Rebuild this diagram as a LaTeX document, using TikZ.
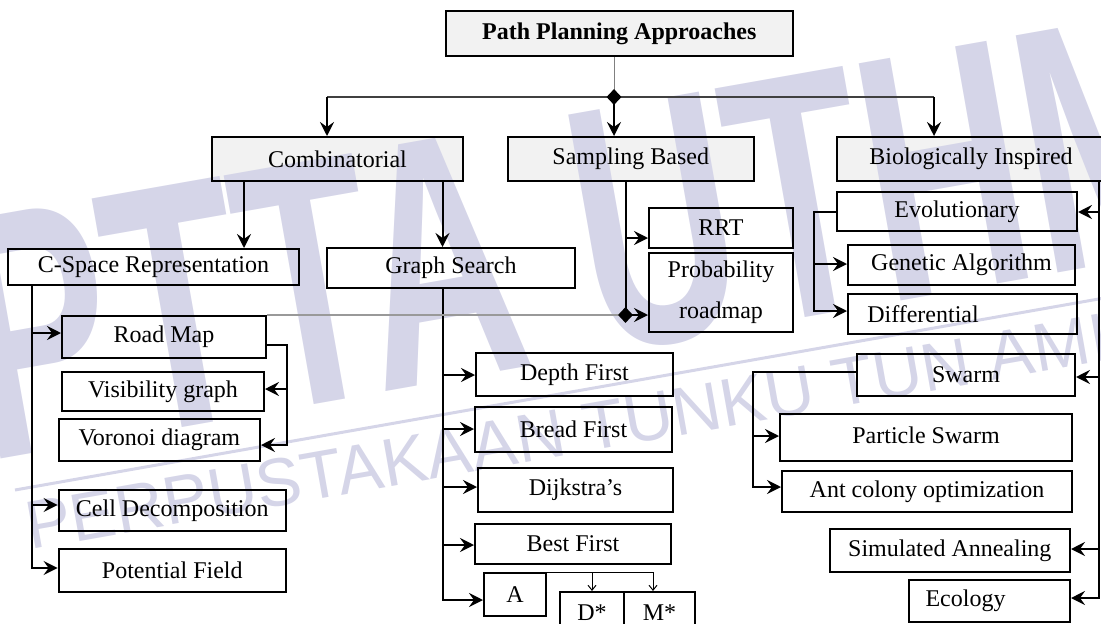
\documentclass[tikz,border=0pt]{standalone}
\usepackage{fontspec}
\setmainfont{Liberation Serif}
\newfontfamily\wmfamily{Liberation Sans}
\usetikzlibrary{arrows.meta,shapes.geometric}
\pgfdeclarelayer{fills}
\pgfdeclarelayer{wm}
\pgfsetlayers{fills,wm,main}
\definecolor{boxgray}{RGB}{242,242,242}
\definecolor{wmc}{RGB}{213,213,232}
\newcommand\fs{\fontsize{24}{28}\selectfont}
% box by corners: [opts]{name}{x1}{y1}{x2}{y2}{text}
\newcommand\bx[7][]{\node[box,#1,minimum width={(#5-#3)*1pt},minimum height={(#6-#4)*1pt}] (#2) at ({(#3+#5)/2},{(#4+#6)/2}) {#7};}
\begin{document}
\begin{tikzpicture}[x=1pt,y=-1pt,
  box/.style={draw,line width=2pt,inner sep=0pt,font=\fs,align=center},
  topbox/.style={box},
  ln/.style={line width=2pt},
  arr/.style={line width=2pt,-{Stealth[length=14pt,width=14pt,inset=5pt]}},
  tarr/.style={line width=1pt,-{Straight Barb[length=5pt,width=8pt]}},
  hub/.style={diamond,fill=black,inner sep=0pt,minimum width=15pt,minimum height=16pt},
  trunk/.style={line width=1.6pt,draw=black!75},
  stem/.style={line width=1pt,draw=black!50},
  link/.style={line width=1.2pt,draw=black!40},
  wmbig/.style={anchor=base west,rotate=10,inner sep=0pt,text=wmc,font=\wmfamily\bfseries\fontsize{350}{350}\selectfont},
  wmsmall/.style={anchor=base west,rotate=10,inner sep=0pt,text=wmc,font=\wmfamily\fontsize{68}{68}\selectfont},
  wmline/.style={line width=3pt,draw=wmc}]
\useasboundingbox (0,0) rectangle (1101,624);

% ---- boxes ----
\bx[topbox,font=\fs\bfseries]{root}{445.6}{11}{793}{56}{Path Planning Approaches}
\bx[topbox]{comb}{212}{137}{463}{181}{Combinatorial}
\bx[topbox]{samp}{508}{137}{753.5}{181}{Sampling Based}
\bx[topbox]{bio}{837}{137}{1105}{181}{Biologically Inspired}

\bx{cspace}{8}{249}{299}{285}{C-Space Representation}
\bx{graph}{327}{248}{575}{288}{Graph Search}
\bx{rrt}{649}{208}{793}{248}{RRT}
\bx[font=\fontsize{24}{41}\selectfont]{prob}{649}{253}{793}{332}{Probability\\roadmap}

\bx{road}{62}{316}{266}{358}{Road Map}
\bx{vis}{62}{372}{264}{411}{Visibility graph}
\bx{vor}{58.6}{419}{260}{461}{Voronoi diagram}
\bx{cell}{58.6}{490}{286}{531}{Cell Decomposition}
\bx{pot}{58.6}{549}{286}{592}{Potential Field}

\bx{depth}{476}{353}{673}{396}{Depth First}
\bx{bread}{475}{407}{672}{452}{Bread First}
\bx{dijk}{478}{468}{673}{512}{Dijkstra’s}
\bx{best}{475}{524}{671}{564}{Best First}
\bx{A}{484}{573}{546}{616}{A}
\bx{dst}{560}{592}{624}{634}{D*}
\bx{mst}{624}{592}{695}{634}{M*}

\bx{evo}{837}{192}{1077}{231}{Evolutionary}
\bx{gen}{848}{245}{1075}{285}{Genetic Algorithm}
\bx{diff}{848}{294}{1077}{334}{Differential\hspace*{79pt}}
\bx{swarm}{857}{354}{1075}{396}{Swarm}
\bx{part}{780}{414}{1072}{461}{\raisebox{5pt}{Particle Swarm}}
\bx{ant}{782}{471}{1072}{512}{Ant colony optimization}
\bx{sim}{829.6}{529}{1070}{572}{Simulated Annealing}
\bx{eco}{909}{580}{1070}{622}{Ecology\hspace*{48pt}}

% ---- junctions and guide coordinates ----
\coordinate (j1) at (614,97);
\coordinate (j2) at (625.5,315);
\coordinate (h1) at (327,97);
\coordinate (h3) at (934,97);
\coordinate (k1) at (244,0);
\coordinate (k2) at (442.5,0);
\coordinate (v1) at (32,0);
\coordinate (b1) at (287,345);
\coordinate (g1) at (442.5,0);
\coordinate (ta) at (592,0);
\coordinate (tb) at (653,0);
\coordinate (e1) at (814,0);
\coordinate (w1) at (753,0);
\coordinate (bv) at (1099,0);
\coordinate (yRoad) at (0,333);
\coordinate (yCell) at (0,505);
\coordinate (yPot) at (0,568);
\coordinate (yVis) at (0,389);
\coordinate (yVor) at (0,445);
\coordinate (yDep) at (0,375);
\coordinate (yBre) at (0,429);
\coordinate (yDij) at (0,487);
\coordinate (yBes) at (0,545);
\coordinate (yA) at (0,600);
\coordinate (yRRT) at (0,238);
\coordinate (yGen) at (0,264);
\coordinate (yDif) at (0,311);
\coordinate (ySw) at (0,372);
\coordinate (yPar) at (0,436);
\coordinate (yAnt) at (0,487);
\coordinate (yEvo) at (0,212);
\coordinate (ySwm) at (0,377);
\coordinate (ySim) at (0,549);
\coordinate (yEco) at (0,598);

% ---- top level ----
\draw[stem] (j1 |- root.south) -- (j1);
\draw[trunk] (h1) -- (h3);
\draw[arr] (h1) -- (h1 |- comb.north);
\draw[arr] (j1) -- (j1 |- samp.north);
\draw[arr] (h3) -- (h3 |- bio.north);

% ---- combinatorial ----
\draw[arr] (k1 |- comb.south) -- (k1 |- cspace.north);
\draw[arr] (k2 |- comb.south) -- (k2 |- graph.north);

\draw[arr] (v1 |- cspace.south) |- (pot.west |- yPot);
\draw[arr] (v1 |- yRoad) -- (road.west |- yRoad);
\draw[arr] (v1 |- yCell) -- (cell.west |- yCell);

\draw[arr] (road.east |- b1) -| (b1 |- yVor) -- (vor.east |- yVor);
\draw[arr] (b1 |- yVis) -- (vis.east |- yVis);

\draw[arr] (g1 |- graph.south) |- (A.west |- yA);
\draw[arr] (g1 |- yDep) -- (depth.west |- yDep);
\draw[arr] (g1 |- yBre) -- (bread.west |- yBre);
\draw[arr] (g1 |- yDij) -- (dijk.west |- yDij);
\draw[arr] (g1 |- yBes) -- (best.west |- yBes);

\draw[tarr] (A.north east) -| (tb |- mst.north);
\draw[tarr] (ta |- A.north east) -- (ta |- dst.north);

% ---- sampling based ----
\draw[link] (road.north east) -- (road.north east -| j2);
\draw[ln] (j2 |- samp.south) -- (j2);
\draw[arr] (j2 |- yRRT) -- (rrt.west |- yRRT);
\draw[arr] (j2) -- (prob.west |- j2);

% ---- biologically inspired ----
\draw[arr] (evo.west) -| (e1 |- yDif) -- (diff.west |- yDif);
\draw[arr] (e1 |- yGen) -- (gen.west |- yGen);
\draw[arr] (swarm.west |- ySw) -| (w1 |- yAnt) -- (ant.west |- yAnt);
\draw[arr] (w1 |- yPar) -- (part.west |- yPar);

\draw[arr] (bv |- bio.south) |- (eco.east |- yEco);
\draw[arr] (bv |- yEvo) -- (evo.east |- yEvo);
\draw[arr] (bv |- ySwm) -- (swarm.east |- ySwm);
\draw[arr] (bv |- ySim) -- (sim.east |- ySim);

\node[hub] (d1) at (j1) {};
\node[hub] (d2) at (j2) {};

% ---- shaded heading boxes ----
\begin{pgfonlayer}{fills}
  \foreach \n in {root,comb,samp,bio}
    \fill[boxgray] (\n.south west) rectangle (\n.north east);
\end{pgfonlayer}

% ---- library stamp ----
\begin{pgfonlayer}{wm}
  \node[wmbig] (wmA) at (-14,462) {\scalebox{0.63}[1]{PTTA UTHM}};
  \coordinate (wl1) at (15,490);
  \coordinate (wl2) at (1110,297);
  \draw[wmline] (wl1) -- (wl2);
  \node[wmsmall] (wmB) at (30,550) {PERPUSTAKAAN TUNKU TUN AMINAH};
\end{pgfonlayer}
\end{tikzpicture}
\end{document}
